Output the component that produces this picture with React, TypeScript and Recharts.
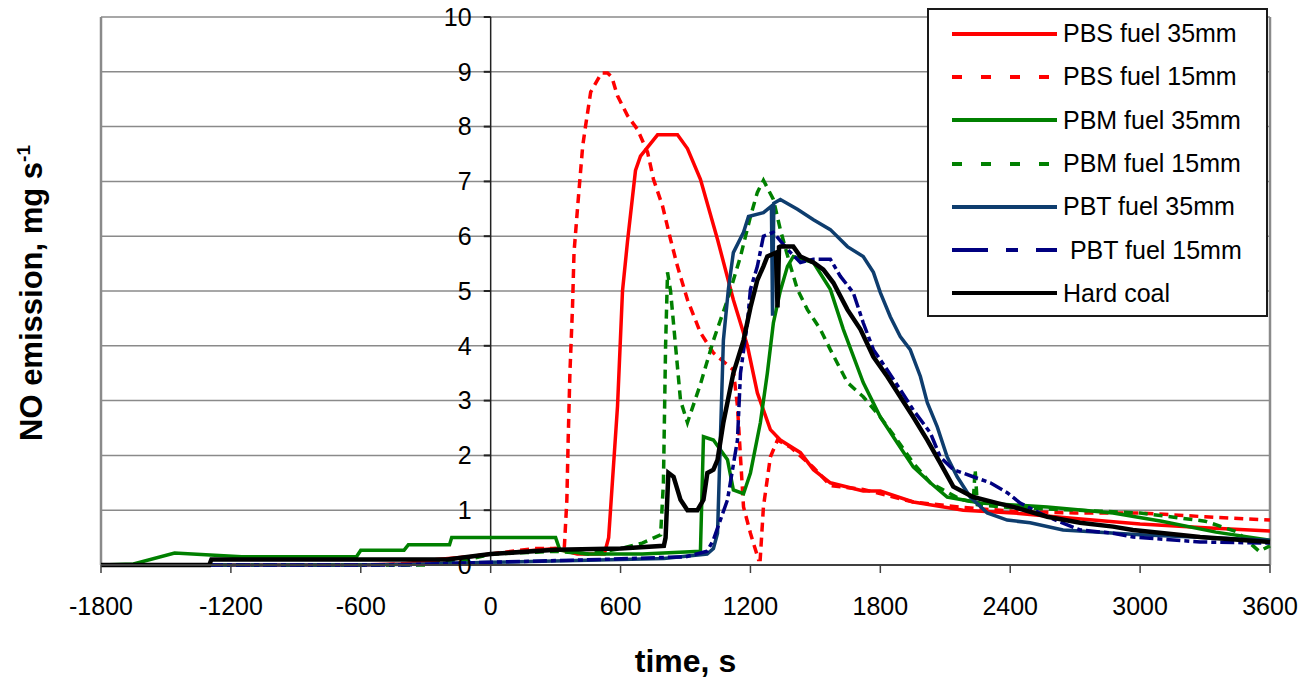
import { LineChart, Line, XAxis, YAxis, CartesianGrid, ReferenceLine, ReferenceDot } from "recharts";

// time [s], NO emission [mg/s]
const PBS_35: [number, number][] = [
  [-1800, 0], [-620, 0], [-400, 0.02], [-250, 0.1], [-100, 0.15], [0, 0.2], [150, 0.25], [300, 0.3], [400, 0.2],
  [525, 0.2], [545, 0.5], [586, 2.9], [609, 5.0], [632, 5.9], [669, 7.2], [692, 7.46], [771, 7.85], [863, 7.85],
  [909, 7.6], [969, 7.04], [1048, 5.94], [1121, 4.84], [1186, 4.0], [1232, 3.14], [1292, 2.47], [1338, 2.28],
  [1431, 2.05], [1491, 1.74], [1569, 1.5], [1721, 1.35], [1800, 1.35], [1952, 1.15], [2183, 1.0], [2414, 0.95],
  [2700, 0.85], [3000, 0.75], [3300, 0.68], [3600, 0.62],
];
const PBS_15: [number, number][] = [
  [-1800, 0], [-500, 0], [-300, 0.05], [-100, 0.15], [0, 0.2], [200, 0.3], [340, 0.3], [352, 1.19], [358, 2.28],
  [366, 3.5], [378, 4.7], [385, 5.7], [402, 6.55], [425, 7.64], [438, 8.0], [462, 8.63], [512, 8.98], [540, 8.98],
  [560, 8.9], [586, 8.56], [632, 8.2], [678, 7.95], [725, 7.53], [752, 7.04], [794, 6.55], [831, 5.94], [863, 5.45],
  [909, 4.84], [969, 4.24], [1029, 3.87], [1121, 3.56], [1140, 2.9], [1154, 1.97], [1168, 1.06], [1200, 0.58],
  [1237, 0.1], [1245, 0.1], [1260, 1.06], [1292, 1.97], [1325, 2.28], [1385, 2.15], [1491, 1.78], [1569, 1.45],
  [1721, 1.38], [1952, 1.15], [2183, 1.05], [2414, 0.98], [2700, 0.95], [3000, 0.95], [3300, 0.88], [3600, 0.82],
];
const PBM_35: [number, number][] = [
  [-1800, 0], [-1650, 0.02], [-1460, 0.22], [-1150, 0.15], [-620, 0.15], [-600, 0.27], [-400, 0.27], [-380, 0.37],
  [-190, 0.37], [-180, 0.5], [300, 0.5], [320, 0.27], [450, 0.2], [700, 0.2], [969, 0.25], [983, 2.34], [1029, 2.28],
  [1094, 1.92], [1121, 1.37], [1168, 1.3], [1200, 1.68], [1246, 2.6], [1278, 3.5], [1306, 4.42], [1338, 5.0],
  [1371, 5.45], [1398, 5.63], [1491, 5.52], [1569, 5.03], [1629, 4.3], [1721, 3.33], [1800, 2.7], [1878, 2.23],
  [1952, 1.79], [2031, 1.5], [2109, 1.24], [2261, 1.13], [2571, 1.06], [2875, 0.95], [3100, 0.8], [3350, 0.6],
  [3600, 0.45],
];
const PBM_15: [number, number][] = [
  [-1800, 0], [-300, 0], [-100, 0.1], [0, 0.2], [300, 0.25], [450, 0.2], [600, 0.3], [700, 0.4], [785, 0.55],
  [798, 1.5], [808, 4.0], [817, 5.34], [831, 5.0], [854, 4.0], [877, 3.0], [909, 2.6], [969, 3.3], [1029, 4.1],
  [1094, 4.84], [1154, 5.63], [1200, 6.36], [1232, 6.8], [1260, 7.02], [1306, 6.67], [1338, 6.12], [1385, 5.45],
  [1417, 5.03], [1463, 4.66], [1523, 4.3], [1569, 3.93], [1648, 3.33], [1721, 3.07], [1800, 2.7], [1878, 2.28],
  [1952, 1.86], [2031, 1.5], [2169, 1.2], [2229, 1.15], [2238, 1.74], [2248, 1.1], [2400, 1.05], [2700, 1.0],
  [3000, 0.95], [3300, 0.8], [3450, 0.6], [3550, 0.25], [3600, 0.35],
];
const PBT_35: [number, number][] = [
  [-1800, 0], [-600, 0], [-300, 0.02], [0, 0.05], [400, 0.08], [800, 0.12], [1000, 0.2], [1029, 0.3], [1048, 0.58],
  [1061, 2.28], [1075, 4.1], [1098, 5.03], [1121, 5.7], [1168, 6.07], [1191, 6.36], [1260, 6.43], [1297, 6.55],
  [1302, 4.55], [1308, 6.6], [1338, 6.67], [1417, 6.49], [1491, 6.3], [1569, 6.12], [1648, 5.81], [1721, 5.63],
  [1768, 5.34], [1800, 4.97], [1846, 4.53], [1892, 4.17], [1938, 3.93], [1985, 3.44], [2017, 2.96], [2063, 2.52],
  [2109, 1.97], [2155, 1.61], [2215, 1.24], [2294, 0.95], [2386, 0.82], [2492, 0.77], [2644, 0.64], [3000, 0.55],
  [3300, 0.5], [3600, 0.45],
];
const PBT_15: [number, number][] = [
  [-1800, 0], [-400, 0], [-200, 0.03], [0, 0.05], [500, 0.1], [900, 0.15], [1000, 0.25], [1029, 0.46], [1094, 1.19],
  [1140, 2.28], [1154, 3.5], [1186, 4.42], [1200, 5.03], [1232, 5.45], [1260, 6.0], [1306, 6.07], [1371, 5.76],
  [1431, 5.52], [1491, 5.58], [1569, 5.58], [1615, 5.27], [1675, 4.97], [1721, 4.42], [1768, 3.93], [1832, 3.56],
  [1892, 3.2], [1952, 2.83], [2031, 2.41], [2077, 1.97], [2137, 1.74], [2229, 1.61], [2308, 1.5], [2386, 1.32],
  [2446, 1.13], [2571, 0.88], [2723, 0.64], [2875, 0.58], [2967, 0.51], [3277, 0.42], [3600, 0.4],
];
const HARD_COAL: [number, number][] = [
  [-1800, 0], [-1300, 0], [-1290, 0.1], [-200, 0.1], [0, 0.2], [300, 0.28], [600, 0.3], [800, 0.35], [808, 0.5],
  [821, 1.68], [845, 1.61], [877, 1.19], [909, 1.0], [955, 1.0], [983, 1.19], [1001, 1.68], [1029, 1.74],
  [1048, 1.92], [1075, 2.6], [1121, 3.5], [1168, 4.1], [1200, 4.7], [1232, 5.2], [1260, 5.45], [1278, 5.63],
  [1318, 5.7], [1325, 4.7], [1332, 5.8], [1338, 5.81], [1398, 5.81], [1431, 5.63], [1491, 5.52], [1537, 5.39],
  [1583, 5.15], [1648, 4.66], [1708, 4.3], [1768, 3.8], [1832, 3.44], [1892, 3.07], [1952, 2.7], [2017, 2.28],
  [2077, 1.86], [2137, 1.43], [2229, 1.24], [2340, 1.13], [2414, 1.06], [2571, 0.88], [2723, 0.77], [2875, 0.7],
  [2967, 0.64], [3277, 0.51], [3600, 0.42],
];

const X_TICKS = [-1800, -1200, -600, 0, 600, 1200, 1800, 2400, 3000, 3600];
const Y_TICKS = [0, 1, 2, 3, 4, 5, 6, 7, 8, 9, 10];

const SERIES = [
  { name: "PBS fuel 35mm", points: PBS_35, color: "#FF0000", width: 3.5, dash: undefined, legendDash: undefined },
  { name: "PBS fuel 15mm", points: PBS_15, color: "#FF0000", width: 3.5, dash: "9 6", legendDash: "10 19" },
  { name: "PBM fuel 35mm", points: PBM_35, color: "#008000", width: 3.5, dash: undefined, legendDash: undefined },
  { name: "PBM fuel 15mm", points: PBM_15, color: "#008000", width: 3.5, dash: "9 6", legendDash: "10 19" },
  { name: "PBT fuel 35mm", points: PBT_35, color: "#0E3D6E", width: 3.5, dash: undefined, legendDash: undefined },
  { name: " PBT fuel 15mm", points: PBT_15, color: "#000080", width: 3.5, dash: "14 4 5 4", legendDash: "36 18 12 18" },
  { name: "Hard coal", points: HARD_COAL, color: "#000000", width: 4.5, dash: undefined, legendDash: undefined },
];

const FONT = "'Liberation Sans', Arial, sans-serif";

export default function App() {
  return (
    <div style={{ position: "absolute", left: 0, top: 0, width: 1306, height: 678, background: "#fff", fontFamily: FONT }}>
      <LineChart width={1306} height={678} margin={{ top: 17, right: 36, left: 101, bottom: 0 }}>
        <CartesianGrid vertical={false} stroke="#8a8a8a" strokeWidth={1.5} />
        <XAxis
          type="number"
          dataKey="t"
          domain={[-1800, 3600]}
          ticks={X_TICKS}
          interval={0}
          height={113}
          axisLine={{ stroke: "#404040", strokeWidth: 2 }}
          tickLine={{ stroke: "#404040", strokeWidth: 1.5 }}
          tickSize={8}
          tickMargin={24}
          tick={{ fontSize: 25, fill: "#000", fontFamily: FONT }}
          label={{ value: "time, s", position: "insideBottom", offset: 6, fontSize: 32, fontWeight: "bold", fill: "#000", fontFamily: FONT }}
        />
        <YAxis type="number" dataKey="v" domain={[0, 10]} ticks={Y_TICKS} hide />
        <ReferenceLine x={-1800} stroke="#8a8a8a" strokeWidth={2.5} />
        <ReferenceLine x={3600} stroke="#8a8a8a" strokeWidth={2.5} />
        <ReferenceLine x={0} stroke="#222" strokeWidth={1.5} />
        {Y_TICKS.map((v) => (
          <ReferenceLine key={`yt${v}`} segment={[{ x: -32, y: v }, { x: 0, y: v }]} stroke="#222" strokeWidth={2} />
        ))}
        {Y_TICKS.map((v) => (
          <ReferenceDot
            key={`yl${v}`}
            x={0}
            y={v}
            r={0}
            fill="none"
            stroke="none"
            label={{ value: String(v), position: "left", offset: 19, fontSize: 25, fill: "#000", fontFamily: FONT }}
          />
        ))}
        {SERIES.map((s) => (
          <Line
            key={s.name}
            data={s.points.map(([t, v]) => ({ t, v }))}
            dataKey="v"
            name={s.name}
            type="linear"
            stroke={s.color}
            strokeWidth={s.width}
            strokeDasharray={s.dash}
            dot={false}
            isAnimationActive={false}
          />
        ))}
      </LineChart>

      <svg width={60} height={678} style={{ position: "absolute", left: 0, top: 0 }}>
        <text
          x={42}
          y={293}
          transform="rotate(-90 42 293)"
          textAnchor="middle"
          fontSize={31}
          fontWeight="bold"
          fill="#000"
          fontFamily={FONT}
        >
          NO emission, mg s<tspan dy={-12} fontSize={19}>-1</tspan>
        </text>
      </svg>

      <div
        style={{
          position: "absolute",
          left: 927,
          top: 8,
          width: 341,
          height: 309,
          boxSizing: "border-box",
          border: "2px solid #1a1a1a",
          background: "#fff",
          paddingTop: 2,
        }}
      >
        {SERIES.map((s) => (
          <div key={s.name} style={{ display: "flex", alignItems: "center", height: 43.3 }}>
            <svg width={105} height={8} style={{ marginLeft: 23, flexShrink: 0 }}>
              <line x1={0} y1={4} x2={105} y2={4} stroke={s.color} strokeWidth={4} strokeDasharray={s.legendDash} />
            </svg>
            <span style={{ marginLeft: 6, fontSize: 25, color: "#000", whiteSpace: "pre" }}>{s.name}</span>
          </div>
        ))}
      </div>
    </div>
  );
}
